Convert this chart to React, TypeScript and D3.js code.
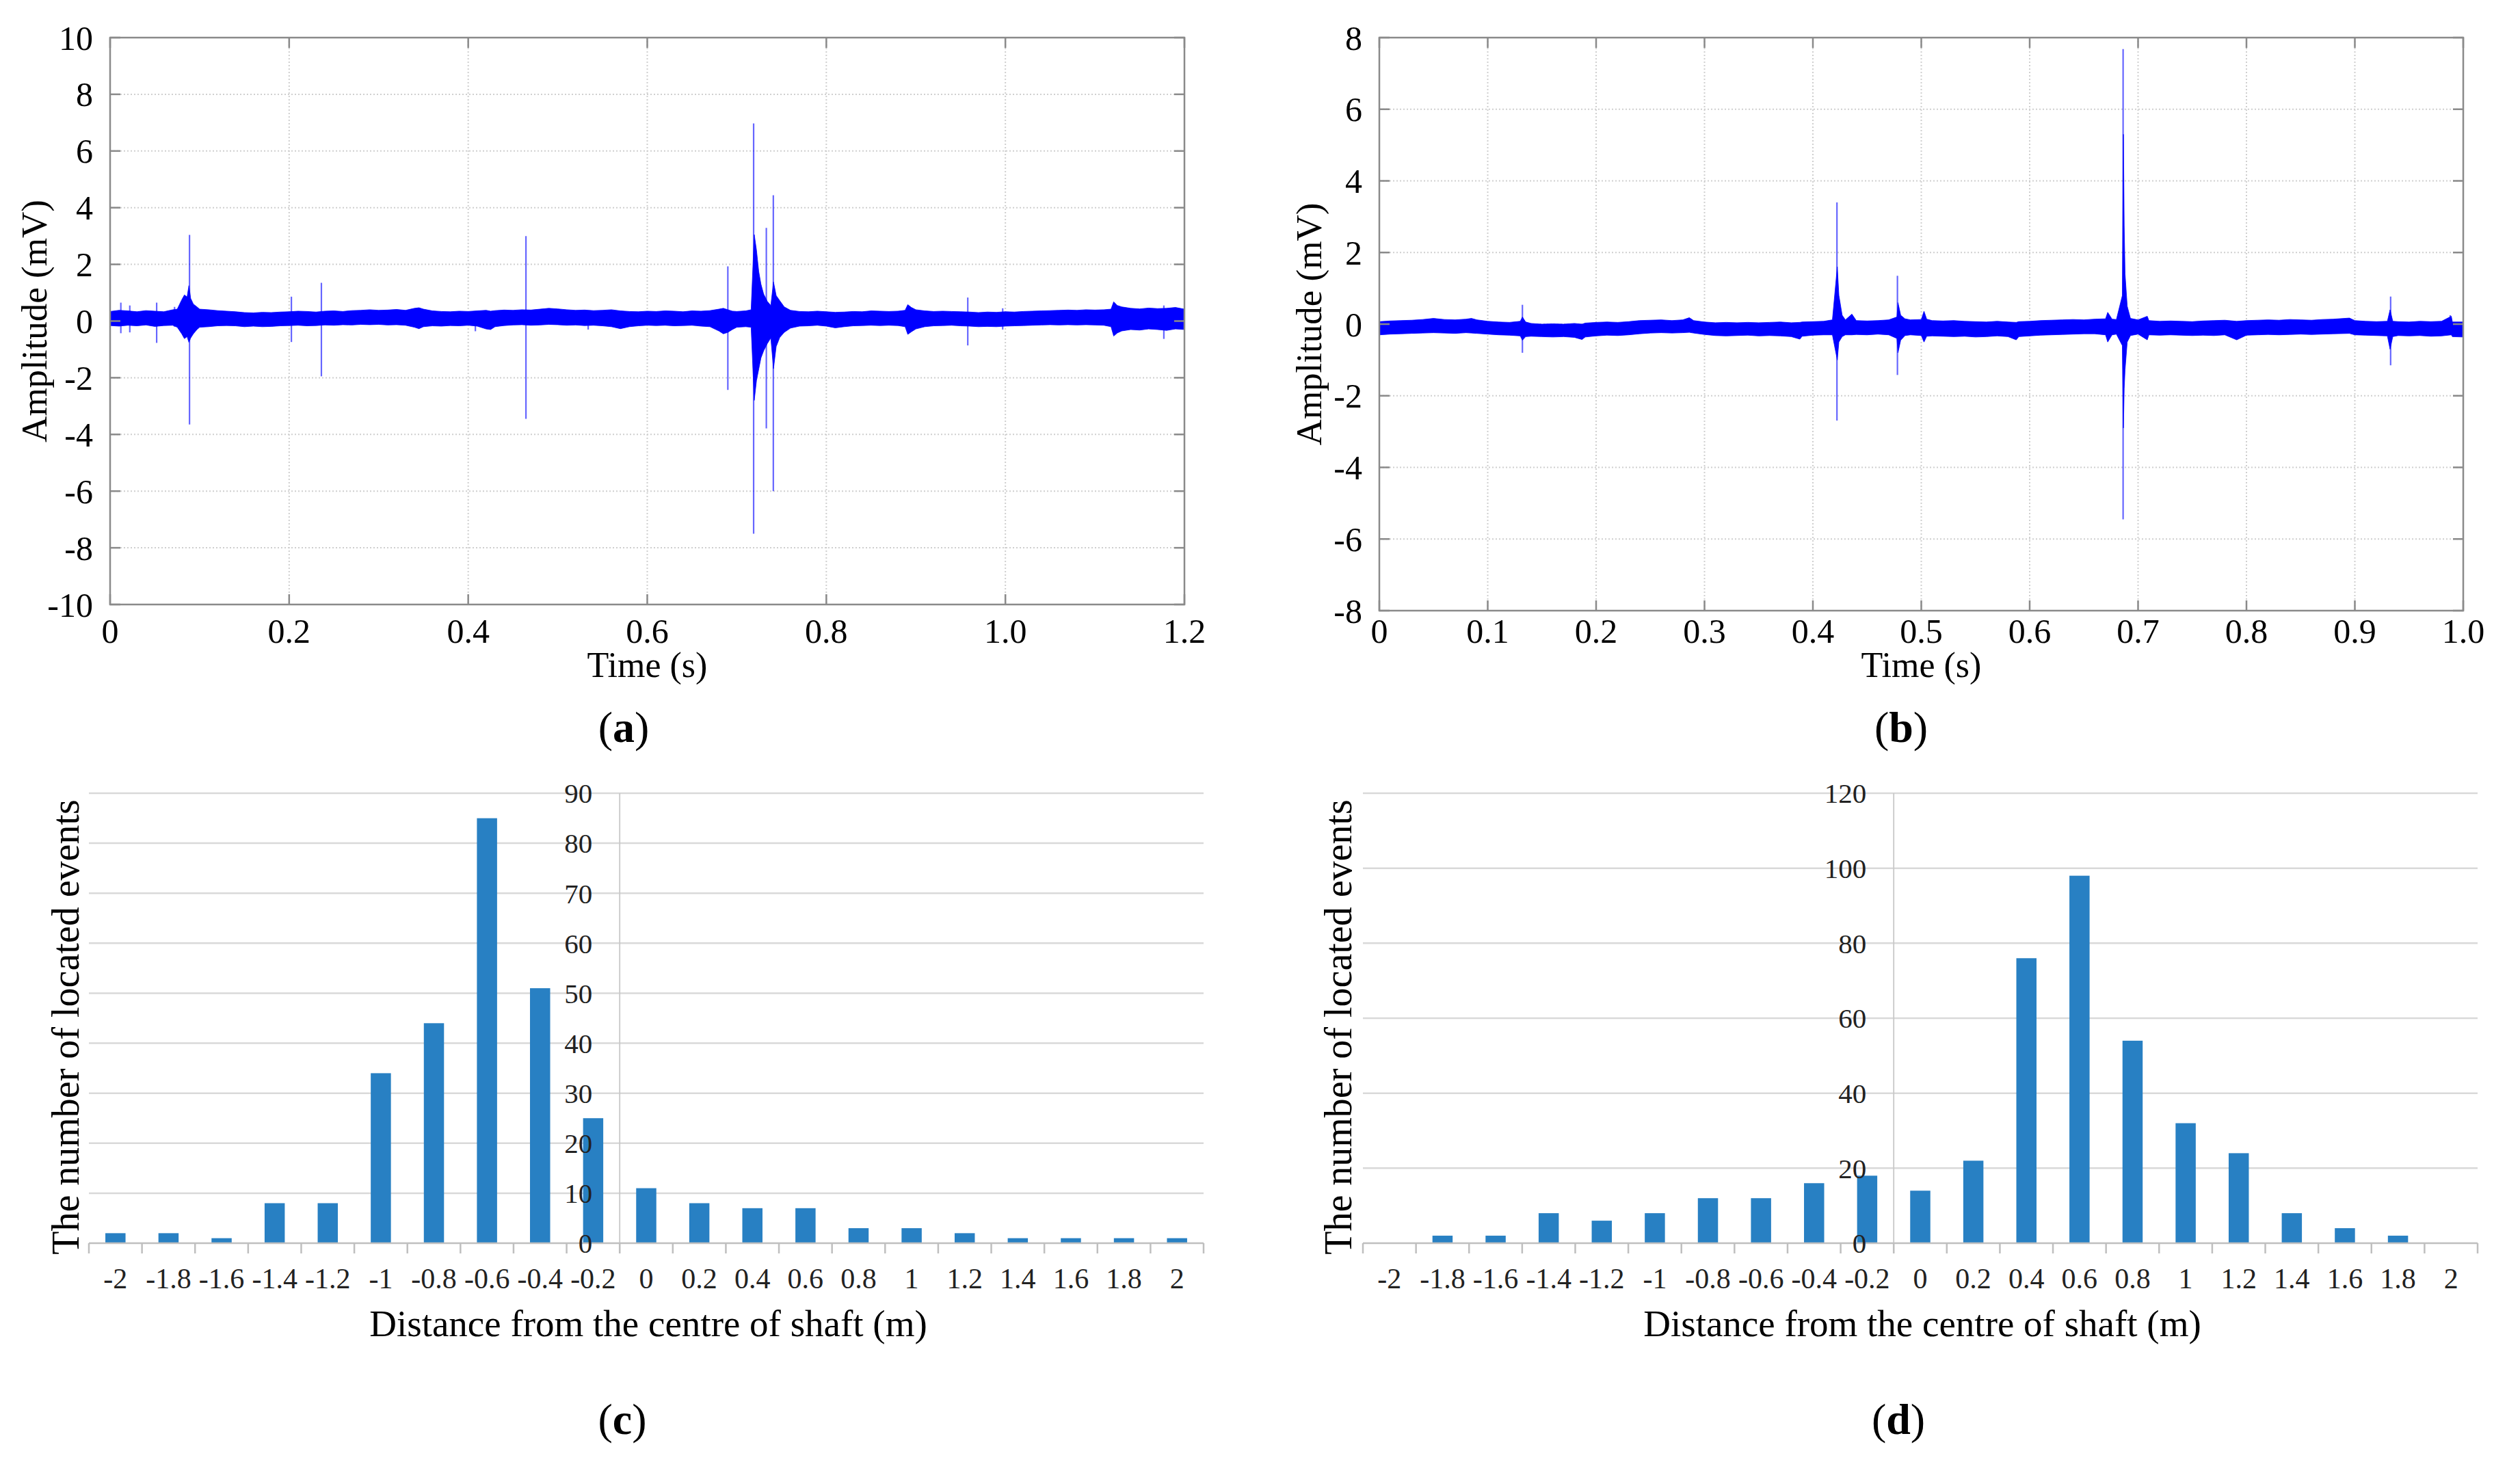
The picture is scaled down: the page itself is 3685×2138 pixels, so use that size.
import * as d3 from 'd3';

// ---------- data ----------
// waveform (a): dense noise band as [time s, low mV, high mV]
const bandA: [number, number, number][] = [
  [0.00, -0.16, 0.34], [0.01, -0.18, 0.38], [0.02, -0.15, 0.36], [0.03, -0.17, 0.33], [0.04, -0.14, 0.37],
  [0.05, -0.19, 0.35], [0.06, -0.16, 0.33], [0.07, -0.15, 0.40], [0.075, -0.22, 0.42], [0.08, -0.45, 0.75],
  [0.083, -0.62, 0.92], [0.086, -0.55, 0.85], [0.088, -0.75, 1.25], [0.090, -0.6, 0.8], [0.093, -0.45, 0.6],
  [0.097, -0.3, 0.5], [0.10, -0.22, 0.42], [0.11, -0.2, 0.4], [0.12, -0.17, 0.37], [0.13, -0.16, 0.35],
  [0.14, -0.17, 0.33], [0.15, -0.2, 0.3], [0.16, -0.18, 0.29], [0.17, -0.2, 0.31], [0.18, -0.19, 0.3],
  [0.19, -0.17, 0.32], [0.20, -0.16, 0.33], [0.21, -0.15, 0.35], [0.22, -0.17, 0.34], [0.23, -0.16, 0.32],
  [0.24, -0.14, 0.35], [0.25, -0.15, 0.36], [0.26, -0.13, 0.34], [0.27, -0.14, 0.37], [0.28, -0.12, 0.38],
  [0.29, -0.13, 0.40], [0.30, -0.12, 0.38], [0.31, -0.14, 0.39], [0.32, -0.13, 0.41], [0.33, -0.15, 0.38],
  [0.34, -0.22, 0.45], [0.345, -0.27, 0.47], [0.35, -0.2, 0.42], [0.36, -0.17, 0.36], [0.37, -0.18, 0.34],
  [0.38, -0.16, 0.33], [0.39, -0.17, 0.35], [0.40, -0.15, 0.34], [0.41, -0.18, 0.36], [0.42, -0.28, 0.38],
  [0.425, -0.3, 0.35], [0.43, -0.2, 0.37], [0.44, -0.16, 0.39], [0.45, -0.14, 0.38], [0.46, -0.13, 0.4],
  [0.47, -0.15, 0.39], [0.48, -0.14, 0.42], [0.49, -0.12, 0.45], [0.50, -0.13, 0.43], [0.51, -0.15, 0.4],
  [0.52, -0.14, 0.38], [0.53, -0.16, 0.39], [0.54, -0.15, 0.37], [0.55, -0.17, 0.38], [0.56, -0.2, 0.4],
  [0.57, -0.27, 0.36], [0.58, -0.2, 0.34], [0.59, -0.17, 0.33], [0.60, -0.15, 0.35], [0.61, -0.16, 0.34],
  [0.62, -0.15, 0.36], [0.63, -0.17, 0.35], [0.64, -0.16, 0.33], [0.65, -0.15, 0.36], [0.66, -0.18, 0.35],
  [0.67, -0.2, 0.37], [0.68, -0.35, 0.42], [0.685, -0.45, 0.45], [0.69, -0.4, 0.4], [0.695, -0.3, 0.35],
  [0.70, -0.22, 0.34], [0.71, -0.2, 0.36], [0.716, -0.22, 0.4], [0.7195, -2.8, 3.05], [0.722, -2.1, 2.5],
  [0.7245, -1.7, 1.75], [0.727, -1.3, 1.3], [0.73, -1.05, 0.95], [0.734, -0.8, 0.7], [0.738, -0.6, 0.55],
  [0.741, -1.68, 1.38], [0.744, -0.9, 0.9], [0.748, -0.58, 0.72], [0.753, -0.4, 0.5], [0.76, -0.25, 0.38],
  [0.77, -0.18, 0.34], [0.78, -0.17, 0.33], [0.79, -0.15, 0.35], [0.80, -0.18, 0.33], [0.81, -0.24, 0.31],
  [0.82, -0.2, 0.32], [0.83, -0.17, 0.34], [0.84, -0.16, 0.33], [0.85, -0.15, 0.36], [0.86, -0.16, 0.35],
  [0.87, -0.15, 0.34], [0.88, -0.16, 0.35], [0.888, -0.2, 0.38], [0.891, -0.47, 0.58], [0.895, -0.38, 0.48],
  [0.90, -0.28, 0.4], [0.91, -0.2, 0.36], [0.92, -0.17, 0.34], [0.93, -0.16, 0.35], [0.94, -0.15, 0.34],
  [0.95, -0.17, 0.33], [0.96, -0.18, 0.32], [0.97, -0.2, 0.3], [0.98, -0.19, 0.32], [0.99, -0.2, 0.31],
  [1.00, -0.18, 0.33], [1.01, -0.17, 0.32], [1.02, -0.16, 0.34], [1.03, -0.15, 0.35], [1.04, -0.14, 0.36],
  [1.05, -0.13, 0.37], [1.06, -0.14, 0.38], [1.07, -0.13, 0.39], [1.08, -0.14, 0.38], [1.09, -0.13, 0.4],
  [1.10, -0.14, 0.39], [1.11, -0.15, 0.4], [1.118, -0.2, 0.42], [1.121, -0.53, 0.68], [1.125, -0.42, 0.55],
  [1.13, -0.35, 0.5], [1.14, -0.3, 0.45], [1.15, -0.32, 0.43], [1.16, -0.28, 0.46], [1.17, -0.3, 0.44],
  [1.18, -0.33, 0.45], [1.19, -0.28, 0.48], [1.20, -0.3, 0.42],
];
// isolated spikes in (a): [time s, min mV, max mV]
const spikesA: [number, number, number][] = [
  [0.012, -0.43, 0.65], [0.022, -0.4, 0.55], [0.052, -0.77, 0.65], [0.072, -0.2, 0.5],
  [0.0887, -3.65, 3.04], [0.2025, -0.74, 0.86], [0.236, -1.95, 1.35], [0.408, -0.36, 0.3],
  [0.4645, -3.45, 3.0], [0.534, -0.3, 0.3], [0.690, -2.43, 1.93], [0.7188, -7.5, 6.97],
  [0.733, -3.79, 3.29], [0.7408, -6.0, 4.44], [0.958, -0.86, 0.83], [0.997, -0.3, 0.45],
  [1.177, -0.63, 0.55],
];

// waveform (b)
const bandB: [number, number, number][] = [
  [0.00, -0.30, 0.07], [0.01, -0.28, 0.09], [0.02, -0.27, 0.1], [0.03, -0.26, 0.11], [0.04, -0.25, 0.13],
  [0.05, -0.24, 0.16], [0.06, -0.25, 0.13], [0.07, -0.26, 0.12], [0.08, -0.24, 0.14], [0.085, -0.25, 0.16],
  [0.09, -0.26, 0.12], [0.10, -0.28, 0.08], [0.11, -0.3, 0.06], [0.12, -0.31, 0.05], [0.13, -0.33, 0.08],
  [0.132, -0.45, 0.2], [0.135, -0.35, 0.06], [0.14, -0.34, 0.02], [0.15, -0.35, 0.0], [0.16, -0.36, 0.01],
  [0.17, -0.35, 0.0], [0.18, -0.37, 0.02], [0.187, -0.43, 0.0], [0.19, -0.36, 0.03], [0.20, -0.33, 0.05],
  [0.21, -0.31, 0.06], [0.22, -0.32, 0.05], [0.23, -0.3, 0.07], [0.24, -0.27, 0.1], [0.25, -0.25, 0.11],
  [0.26, -0.24, 0.12], [0.27, -0.25, 0.1], [0.28, -0.24, 0.12], [0.286, -0.23, 0.18], [0.29, -0.25, 0.1],
  [0.30, -0.29, 0.06], [0.31, -0.32, 0.04], [0.32, -0.33, 0.05], [0.33, -0.32, 0.04], [0.34, -0.31, 0.05],
  [0.35, -0.33, 0.04], [0.36, -0.32, 0.05], [0.37, -0.33, 0.06], [0.38, -0.35, 0.04], [0.388, -0.42, 0.05],
  [0.39, -0.34, 0.06], [0.40, -0.31, 0.07], [0.41, -0.3, 0.08], [0.418, -0.3, 0.12], [0.4225, -1.0, 1.6],
  [0.424, -0.5, 0.8], [0.427, -0.35, 0.25], [0.43, -0.3, 0.12], [0.436, -0.3, 0.28], [0.44, -0.29, 0.1],
  [0.45, -0.3, 0.09], [0.46, -0.28, 0.1], [0.47, -0.3, 0.12], [0.4775, -0.4, 0.2], [0.4785, -0.8, 0.6],
  [0.481, -0.45, 0.25], [0.485, -0.32, 0.15], [0.49, -0.3, 0.12], [0.50, -0.32, 0.13], [0.5025, -0.5, 0.36],
  [0.505, -0.34, 0.14], [0.51, -0.33, 0.1], [0.52, -0.34, 0.09], [0.53, -0.35, 0.1], [0.54, -0.34, 0.08],
  [0.55, -0.36, 0.07], [0.56, -0.35, 0.06], [0.57, -0.33, 0.08], [0.58, -0.35, 0.06], [0.5876, -0.44, 0.05],
  [0.59, -0.35, 0.07], [0.60, -0.33, 0.08], [0.61, -0.31, 0.1], [0.62, -0.3, 0.11], [0.63, -0.29, 0.12],
  [0.64, -0.28, 0.13], [0.65, -0.27, 0.12], [0.66, -0.27, 0.14], [0.67, -0.3, 0.15], [0.672, -0.5, 0.33],
  [0.676, -0.3, 0.14], [0.68, -0.28, 0.13], [0.6855, -0.6, 0.8], [0.6865, -2.9, 5.3], [0.6872, -1.8, 2.75],
  [0.688, -1.27, 1.4], [0.690, -0.5, 0.5], [0.693, -0.32, 0.16], [0.70, -0.28, 0.12], [0.7085, -0.44, 0.22],
  [0.71, -0.3, 0.1], [0.72, -0.31, 0.08], [0.73, -0.3, 0.09], [0.74, -0.31, 0.08], [0.75, -0.32, 0.07],
  [0.76, -0.31, 0.09], [0.77, -0.32, 0.1], [0.78, -0.3, 0.11], [0.791, -0.44, 0.08], [0.80, -0.31, 0.1],
  [0.81, -0.3, 0.11], [0.82, -0.29, 0.12], [0.83, -0.3, 0.11], [0.84, -0.29, 0.13], [0.85, -0.28, 0.12],
  [0.86, -0.29, 0.11], [0.87, -0.28, 0.13], [0.88, -0.27, 0.14], [0.895, -0.26, 0.17], [0.90, -0.3, 0.1],
  [0.91, -0.31, 0.08], [0.92, -0.32, 0.07], [0.93, -0.33, 0.08], [0.9325, -0.7, 0.4], [0.935, -0.35, 0.08],
  [0.94, -0.32, 0.07], [0.95, -0.33, 0.06], [0.96, -0.32, 0.08], [0.97, -0.34, 0.07], [0.98, -0.33, 0.08],
  [0.989, -0.3, 0.22], [0.99, -0.35, 0.06], [1.00, -0.36, 0.06],
];
const spikesB: [number, number, number][] = [
  [0.132, -0.8, 0.54], [0.4222, -2.69, 3.4], [0.478, -1.42, 1.35], [0.6862, -5.45, 7.68],
  [0.933, -1.15, 0.77], [0.988, -0.3, 0.25],
];

const timeTicksA = [0, 0.2, 0.4, 0.6, 0.8, 1.0, 1.2];
const timeLabelsA = ['0', '0.2', '0.4', '0.6', '0.8', '1.0', '1.2'];
const ampTicksA = [-10, -8, -6, -4, -2, 0, 2, 4, 6, 8, 10];
const timeTicksB = [0, 0.1, 0.2, 0.3, 0.4, 0.5, 0.6, 0.7, 0.8, 0.9, 1.0];
const timeLabelsB = ['0', '0.1', '0.2', '0.3', '0.4', '0.5', '0.6', '0.7', '0.8', '0.9', '1.0'];
const ampTicksB = [-8, -6, -4, -2, 0, 2, 4, 6, 8];

// histograms (c) and (d)
const distances = ['-2', '-1.8', '-1.6', '-1.4', '-1.2', '-1', '-0.8', '-0.6', '-0.4', '-0.2',
  '0', '0.2', '0.4', '0.6', '0.8', '1', '1.2', '1.4', '1.6', '1.8', '2'];
const countsC = [2, 2, 1, 8, 8, 34, 44, 85, 51, 25, 11, 8, 7, 7, 3, 3, 2, 1, 1, 1, 1];
const countsD = [0, 2, 2, 8, 6, 8, 12, 12, 16, 18, 14, 22, 76, 98, 54, 32, 24, 8, 4, 2, 0];
const countTicksC = [0, 10, 20, 30, 40, 50, 60, 70, 80, 90];
const countTicksD = [0, 20, 40, 60, 80, 100, 120];

const SERIF = '"Liberation Serif", "Times New Roman", serif';
const BLUE = '#0000ff';
const BAR = '#2880c3';

type Box = { x0: number; x1: number; y0: number; y1: number };

function Letter({ x, y, ch }: { x: number; y: number; ch: string }) {
  return (
    <text x={x} y={y} textAnchor="middle" fontFamily={SERIF} fontSize={64} fill="#000">
      (<tspan fontWeight="bold">{ch}</tspan>)
    </text>
  );
}

function WavePanel({ box, xMax, xTicks, xLabels, yMax, yTicks, band, spikes, yLabelX, tickLabelY }: {
  box: Box; xMax: number; xTicks: number[]; xLabels: string[]; yMax: number; yTicks: number[];
  band: [number, number, number][]; spikes: [number, number, number][]; yLabelX: number; tickLabelY: number;
}) {
  const x = d3.scaleLinear().domain([0, xMax]).range([box.x0, box.x1]);
  const y = d3.scaleLinear().domain([-yMax, yMax]).range([box.y1, box.y0]);
  const area = d3.area<[number, number, number]>()
    .x((d) => x(d[0]))
    .y0((d) => y(d[1]))
    .y1((d) => y(d[2]));
  const tick = 15;
  const mid = (box.y0 + box.y1) / 2;
  return (
    <g>
      {/* dotted grid */}
      {xTicks.slice(1, -1).map((t) => (
        <line key={`gx${t}`} x1={x(t)} x2={x(t)} y1={box.y0} y2={box.y1}
          stroke="#cfcfcf" strokeWidth={2} strokeDasharray="2 3" />
      ))}
      {yTicks.slice(1, -1).map((v) => (
        <line key={`gy${v}`} x1={box.x0} x2={box.x1} y1={y(v)} y2={y(v)}
          stroke="#cfcfcf" strokeWidth={2} strokeDasharray="2 3" />
      ))}
      {/* signal */}
      {spikes.map((s, i) => (
        <line key={`s${i}`} x1={x(s[0])} x2={x(s[0])} y1={y(s[1])} y2={y(s[2])}
          stroke={BLUE} strokeWidth={2.2} strokeOpacity={0.6} />
      ))}
      <path d={area(band) ?? ''} fill={BLUE} stroke={BLUE} strokeWidth={0.8} />
      {/* frame and inward ticks */}
      <rect x={box.x0} y={box.y0} width={box.x1 - box.x0} height={box.y1 - box.y0}
        fill="none" stroke="#8a8a8a" strokeWidth={2.5} />
      {xTicks.map((t) => (
        <g key={`tx${t}`} stroke="#8a8a8a" strokeWidth={2.5}>
          <line x1={x(t)} x2={x(t)} y1={box.y1} y2={box.y1 - tick} />
          <line x1={x(t)} x2={x(t)} y1={box.y0} y2={box.y0 + tick} />
        </g>
      ))}
      {yTicks.map((v) => (
        <g key={`ty${v}`} stroke="#8a8a8a" strokeWidth={2.5}>
          <line x1={box.x0} x2={box.x0 + tick} y1={y(v)} y2={y(v)} />
          <line x1={box.x1} x2={box.x1 - tick} y1={y(v)} y2={y(v)} />
        </g>
      ))}
      {/* tick labels */}
      {xTicks.map((t, i) => (
        <text key={`lx${t}`} x={x(t)} y={tickLabelY} textAnchor="middle"
          fontFamily={SERIF} fontSize={50} fill="#000">{xLabels[i]}</text>
      ))}
      {yTicks.map((v) => (
        <text key={`ly${v}`} x={box.x0 - 25} y={y(v)} dy="0.35em" textAnchor="end"
          fontFamily={SERIF} fontSize={50} fill="#000">{String(v)}</text>
      ))}
      <text x={(box.x0 + box.x1) / 2} y={990} textAnchor="middle" fontFamily={SERIF}
        fontSize={52} fill="#000">Time (s)</text>
      <text transform={`translate(${yLabelX},${mid}) rotate(-90)`} textAnchor="middle"
        fontFamily={SERIF} fontSize={53} fill="#000">Amplitude (mV)</text>
    </g>
  );
}

function BarPanel({ box, counts, yMax, yTicks, yLabelX }: {
  box: Box; counts: number[]; yMax: number; yTicks: number[]; yLabelX: number;
}) {
  const outer = 0.31;
  const x = d3.scaleBand<string>().domain(distances).range([box.x0, box.x1])
    .paddingInner(0.62).paddingOuter(outer);
  const y = d3.scaleLinear().domain([0, yMax]).range([box.y1, box.y0]);
  const step = x.step();
  const axisX = (x(distances[10]) ?? 0) - step * outer;
  const bounds = d3.range(distances.length + 1).map((i) => box.x0 + i * step);
  return (
    <g>
      {yTicks.slice(1).map((v) => (
        <line key={`g${v}`} x1={box.x0} x2={box.x1} y1={y(v)} y2={y(v)} stroke="#d9d9d9" strokeWidth={2.5} />
      ))}
      <line x1={axisX} x2={axisX} y1={y(yMax)} y2={box.y1 + 15} stroke="#c8c8c8" strokeWidth={1.8} />
      {counts.map((c, i) => (
        <rect key={distances[i]} x={x(distances[i])} y={y(c)} width={x.bandwidth()}
          height={box.y1 - y(c)} fill={BAR} />
      ))}
      <line x1={box.x0} x2={box.x1} y1={box.y1} y2={box.y1} stroke="#bfbfbf" strokeWidth={2.5} />
      {bounds.map((b, i) => (
        <line key={`t${i}`} x1={b} x2={b} y1={box.y1} y2={box.y1 + 15} stroke="#bfbfbf" strokeWidth={2.5} />
      ))}
      {distances.map((d) => (
        <text key={`l${d}`} x={(x(d) ?? 0) + x.bandwidth() / 2} y={1884} textAnchor="middle"
          fontFamily={SERIF} fontSize={42} fill="#222">{d}</text>
      ))}
      {yTicks.map((v) => (
        <text key={`y${v}`} x={axisX - 40} y={y(v)} dy="0.35em" textAnchor="end"
          fontFamily={SERIF} fontSize={41} fill="#222">{String(v)}</text>
      ))}
      <text x={(box.x0 + box.x1) / 2 + 3} y={1954} textAnchor="middle" fontFamily={SERIF}
        fontSize={55} fill="#000">Distance from the centre of shaft (m)</text>
      <text transform={`translate(${yLabelX},${(y(yMax) + box.y1) / 2 + 13}) rotate(-90)`} textAnchor="middle"
        fontFamily={SERIF} fontSize={56} fill="#000">The number of located events</text>
    </g>
  );
}

export default function App() {
  const boxA: Box = { x0: 161, x1: 1732, y0: 55, y1: 884 };
  const boxB: Box = { x0: 2017, x1: 3602, y0: 55, y1: 893 };
  const boxC: Box = { x0: 130, x1: 1760, y0: 1160, y1: 1818 };
  const boxD: Box = { x0: 1993, x1: 3623, y0: 1160, y1: 1818 };
  return (
    <div style={{ position: 'fixed', left: 0, top: 0, background: '#fff' }}>
      <svg width={3685} height={2138} viewBox="0 0 3685 2138" style={{ display: 'block' }}>
        <rect width={3685} height={2138} fill="#fff" />
        <WavePanel box={boxA} xMax={1.2} xTicks={timeTicksA} xLabels={timeLabelsA} yMax={10}
          yTicks={ampTicksA} band={bandA} spikes={spikesA} yLabelX={68} tickLabelY={940} />
        <WavePanel box={boxB} xMax={1.0} xTicks={timeTicksB} xLabels={timeLabelsB} yMax={8}
          yTicks={ampTicksB} band={bandB} spikes={spikesB} yLabelX={1932} tickLabelY={940} />
        <BarPanel box={boxC} counts={countsC} yMax={90} yTicks={countTicksC} yLabelX={115} />
        <BarPanel box={boxD} counts={countsD} yMax={120} yTicks={countTicksD} yLabelX={1976} />
        <Letter x={912} y={1085} ch="a" />
        <Letter x={2780} y={1085} ch="b" />
        <Letter x={910} y={2097} ch="c" />
        <Letter x={2776} y={2097} ch="d" />
      </svg>
    </div>
  );
}
